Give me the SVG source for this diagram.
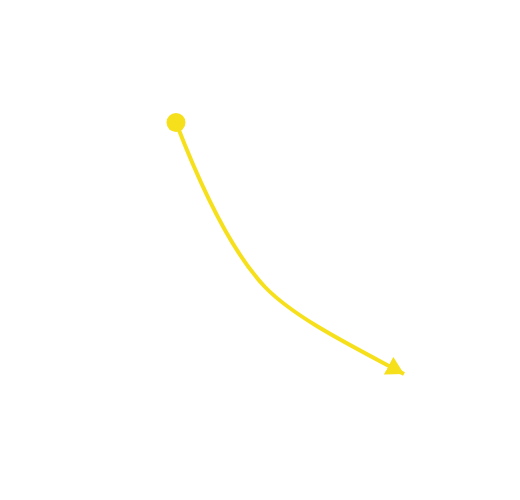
<svg xmlns="http://www.w3.org/2000/svg" width="520" height="500" viewBox="0 0 520 500">
<defs>
<style>
.conn{fill:none;stroke:#f6e01c;stroke-width:4}
.dot{fill:#f6e01c}
</style>
<marker id="arr" markerUnits="userSpaceOnUse" markerWidth="20" markerHeight="20" viewBox="0 0 16 16" refX="14" refY="8" orient="auto">
<path d="M0,0 L14,8 L0,16 Z" fill="#f6e01c"/>
</marker>
</defs>
<rect width="520" height="500" fill="#ffffff"/>
<g id="start-node"><circle class="dot" cx="176" cy="122.5" r="9.5"/></g>
<g id="connectors">
<path class="conn" d="M176,122.5 C200,185 230,250 265,287 C295,318 350,345 404,374" marker-end="url(#arr)"/>
</g>
</svg>
